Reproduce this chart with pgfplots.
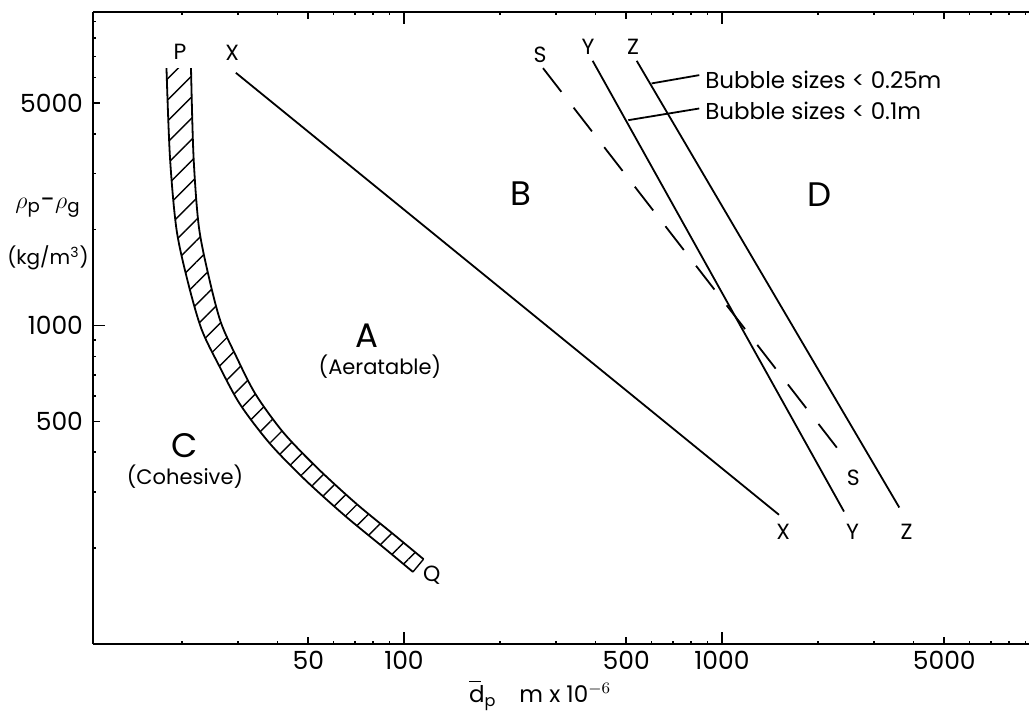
\documentclass[border=0pt]{standalone}
\usepackage{fontspec}
\setmainfont{Poppins}
\usepackage{pgfplots}
\pgfplotsset{compat=1.18}
\usepgfplotslibrary{fillbetween}
\usetikzlibrary{patterns.meta}
\begin{document}
\begin{tikzpicture}
\begin{axis}[
  scale only axis, width=468pt, height=316pt,
  xmode=log, ymode=log,
  xmin=10.52, xmax=9235, ymin=100, ymax=9646,
  axis x line=box, axis y line=left,
  axis line style={line width=1pt},
  y axis line style={-},
  every outer y axis line/.append style={-},
  tick align=inside,
  major tick length=6pt, minor tick length=1.5pt,
  tick style={black, line width=0.8pt},
  xtick={100,1000}, xticklabels={100,1000},
  ytick={1000}, yticklabels={1000},
  extra x ticks={50,500,5000}, extra x tick labels={50,500,5000},
  extra y ticks={500,5000}, extra y tick labels={500,5000},
  extra tick style={major tick length=3.5pt},
  minor xtick={20,30,40,60,70,80,90,200,300,400,600,700,800,900,2000,3000,4000,6000,7000,8000,9000},
  minor ytick={200,300,400,600,700,800,900,2000,3000,4000,6000,7000,8000,9000},
  ticklabel style={font=\fontsize{12.5}{14}\selectfont},
  yticklabel style={xshift=-1.5pt},
  clip=false,
]
\coordinate (SW) at (rel axis cs:0,0);
\coordinate (NE) at (rel axis cs:1,1);
% band P-Q
\addplot[name path=L, black, line width=0.9pt, smooth, no marks] coordinates {
(17.91,6429) (18.37,3376) (19.26,2004) (20.93,1365) (23.08,974) (26.11,754)
(30.50,566) (37.90,425.5) (48.84,327.9) (65.23,252.7) (86.50,200.4) (106.7,168.4)};
\addplot[name path=R, black, line width=0.9pt, smooth, no marks] coordinates {
(21.39,6429) (21.78,3412) (22.63,2051) (24.35,1418) (26.52,1026) (29.60,804)
(34.12,609.0) (41.70,462.0) (53.18,358.4) (70.55,276.6) (93.35,219.7) (115.2,184.7)};
\addplot[draw=none, pattern={Lines[angle=45,distance=7.5pt,line width=0.7pt]}, pattern color=black] fill between[of=L and R];
\addplot[black, line width=0.7pt, no marks] coordinates {(106.7,168.4) (115.2,184.7)};
% X line
\addplot[black, line width=0.9pt, no marks] coordinates {(29.6,6215) (1511,254.5)};
% S dashed
\addplot[black, line width=0.9pt, no marks, dash pattern=on 15pt off 10pt] coordinates {(273.6,6429) (2496,371.6)};
% Y line
\addplot[black, line width=0.9pt, no marks] coordinates {(392.1,6777) (2419,260.6)};
% Z line
\addplot[black, line width=0.9pt, no marks] coordinates {(539.3,6777) (3610,268.3)};
% leaders
\addplot[black, line width=0.9pt, no marks] coordinates {(600.9,5756) (848.3,6112)};
\addplot[black, line width=0.9pt, no marks] coordinates {(507.4,4413) (848.3,4802)};
% labels
\begin{scope}[every node/.style={font=\fontsize{11}{13}\selectfont, inner sep=0pt}]
\node at (rel axis cs:0.0929,0.9372) {P};
\node at (rel axis cs:0.1488,0.9346) {X};
\node at (rel axis cs:0.4776,0.9320) {S};
\node at (rel axis cs:0.5288,0.9451) {Y};
\node at (rel axis cs:0.5769,0.9451) {Z};
\node at (rel axis cs:0.7375,0.1777) {X};
\node at (rel axis cs:0.8116,0.1777) {Y};
\node at (rel axis cs:0.8693,0.1777) {Z};
\node at (rel axis cs:0.8123,0.2622) {S};
\node at (rel axis cs:0.3619,0.1092) {Q};
\end{scope}
\begin{scope}[every node/.style={font=\fontsize{17}{20}\selectfont, inner sep=0pt}]
\node at (rel axis cs:0.2927,0.4881) {A};
\node at (rel axis cs:0.4573,0.7131) {B};
\node at (rel axis cs:0.7767,0.7104) {D};
\node at (rel axis cs:0.0983,0.3133) {C};
\end{scope}
\begin{scope}[every node/.style={font=\fontsize{10.5}{12}\selectfont, inner sep=0pt}]
\node at (rel axis cs:0.3066,0.4391) {(Aeratable)};
\node at (rel axis cs:0.0983,0.2642) {(Cohesive)};
\end{scope}
\begin{scope}[every node/.style={font=\fontsize{11.5}{13}\selectfont, inner sep=0pt, anchor=west}]
\node at (rel axis cs:0.6538,0.8924) {Bubble sizes < 0.25m};
\node at (rel axis cs:0.6538,0.8438) {Bubble sizes < 0.1m};
\end{scope}
\node[font=\fontsize{13}{15}\selectfont, inner sep=0pt] at (rel axis cs:-0.0481,0.6899) {$\rho$\textsubscript{p}-$\rho$\textsubscript{g}};
\node[font=\fontsize{10}{12}\selectfont, inner sep=0pt] at (rel axis cs:-0.0481,0.6108) {(kg/m\textsuperscript{3})};
\node[font=\fontsize{11.5}{13}\selectfont, inner sep=0pt] at (rel axis cs:0.4776,-0.0839) {\rlap{\raisebox{0.9em}[0pt][0pt]{\rule{0.5em}{0.6pt}}}d\textsubscript{p}\quad m x 10$^{-6}$};
\end{axis}
\pgfresetboundingbox
\path[use as bounding box] ([shift={(-46.5pt,-34.5pt)}]SW) rectangle ([shift={(0pt,6pt)}]NE);
\end{tikzpicture}
\end{document}
